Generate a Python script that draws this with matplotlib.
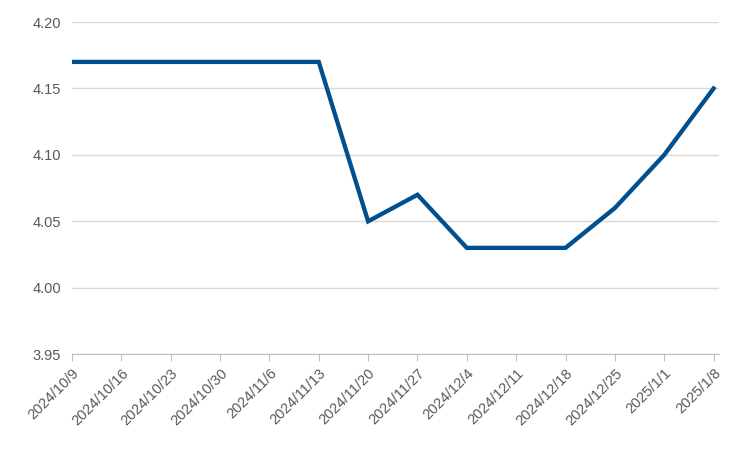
import matplotlib.pyplot as plt

plt.rcParams['font.family'] = ['Liberation Sans', 'DejaVu Sans']

dates = ['2024/10/9', '2024/10/16', '2024/10/23', '2024/10/30', '2024/11/6',
         '2024/11/13', '2024/11/20', '2024/11/27', '2024/12/4', '2024/12/11',
         '2024/12/18', '2024/12/25', '2025/1/1', '2025/1/8']
values = [4.17, 4.17, 4.17, 4.17, 4.17, 4.17, 4.05, 4.07, 4.03, 4.03,
          4.03, 4.06, 4.10, 4.15]

fig = plt.figure(figsize=(7.5, 4.5), dpi=100)
ax = fig.add_axes([0.096, 0.213, 0.862, 0.738])

x = list(range(len(dates)))
ax.plot(x, values, color='#004f8f', linewidth=3.1, solid_joinstyle='miter')

ax.set_xlim(0, len(dates) - 1 + 0.1)
ax.set_ylim(3.95, 4.20)
ax.set_yticks([3.95, 4.00, 4.05, 4.10, 4.15, 4.20])
ax.set_yticklabels([f'{v:.2f}' for v in ax.get_yticks()])
ax.set_xticks(x)
ax.set_xticklabels(dates, rotation=45, ha='right', rotation_mode='anchor')

ax.grid(axis='y', color='#d9d9d9', linewidth=1)
ax.set_axisbelow(True)
for s in ['top', 'right', 'left']:
    ax.spines[s].set_visible(False)
ax.spines['bottom'].set_color('#bfbfbf')
ax.tick_params(axis='y', length=0, labelsize=10.5, colors='#595959', pad=8)
ax.tick_params(axis='x', length=5, color='#bfbfbf', labelsize=10.5, labelcolor='#595959')

fig.savefig('out.png')
